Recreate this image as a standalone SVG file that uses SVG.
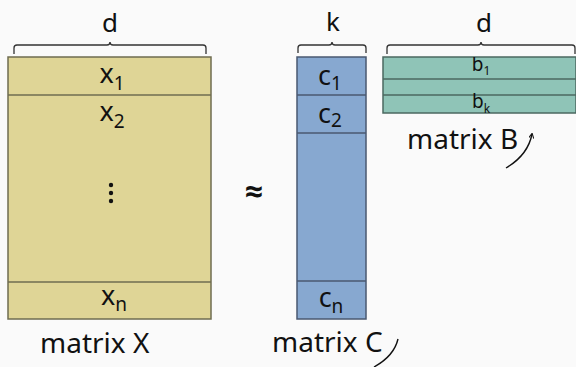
<svg xmlns="http://www.w3.org/2000/svg" width="576" height="367" viewBox="0 0 576 367">
<style>
text{font-family:"Noto Sans","Open Sans",sans-serif;fill:#111}
.lbl{font-size:28px}
.cell{font-size:27px;text-anchor:middle}
.sub{font-size:19px}
.brace{fill:none;stroke:#333;stroke-width:1.3}
.X{fill:#dfd596;stroke:#6f6c50;stroke-width:1.5}
.C{fill:#87a8d0;stroke:#4a5870;stroke-width:1.5}
.B{fill:#8fc4b7;stroke:#4b6860;stroke-width:1.5}
.bl{font-size:19px}
.bs{font-size:12px}
</style>
<defs>
<marker id="tip" viewBox="0 0 6 6" refX="5" refY="3" markerWidth="5" markerHeight="5" orient="auto" markerUnits="userSpaceOnUse">
<path d="M0,0 L6,3 L0,6" fill="none" stroke="#111" stroke-width="1.2"/>
</marker>
<clipPath id="clipB"><rect x="383" y="57" width="193" height="56"/></clipPath>
</defs>
<rect width="576" height="367" fill="#fafafa"/>
<g id="matrixX">
<text x="110" y="32" class="cell" style="font-size:26px">d</text>
<path class="brace" d="M14,54 V48 Q14,45 17,45 H107 Q110,45 110,42 Q110,45 113,45 H203 Q206,45 206,48 V54"/>
<rect class="X" x="8" y="57" width="203" height="262"/>
<line class="X" x1="8" y1="95" x2="211" y2="95"/>
<line class="X" x1="8" y1="282" x2="211" y2="282"/>
<text x="112" y="83" class="cell">x<tspan class="sub" dy="7">1</tspan></text>
<text x="112" y="121" class="cell">x<tspan class="sub" dy="7">2</tspan></text>
<circle cx="111" cy="185" r="2.2" fill="#111"/>
<circle cx="111" cy="193" r="2.2" fill="#111"/>
<circle cx="111" cy="201" r="2.2" fill="#111"/>
<text x="114" y="305" class="cell">x<tspan class="sub" dy="6">n</tspan></text>
<text x="40" y="353" class="lbl">matrix X</text>
</g>
<g id="approx">
<text x="254" y="203" class="cell" style="font-size:32px;font-weight:bold">≈</text>
</g>
<g id="matrixC">
<text x="333" y="31" class="cell" style="font-size:26px">k</text>
<path class="brace" d="M298,53 V48 Q298,45 301,45 H329 Q332,45 332,42 Q332,45 335,45 H363 Q366,45 366,48 V53"/>
<rect class="C" x="297" y="57" width="69" height="262"/>
<line class="C" x1="297" y1="95" x2="366" y2="95"/>
<line class="C" x1="297" y1="133" x2="366" y2="133"/>
<line class="C" x1="297" y1="281" x2="366" y2="281"/>
<text x="330" y="85" class="cell">c<tspan class="sub" dy="5">1</tspan></text>
<text x="330" y="123" class="cell">c<tspan class="sub" dy="4">2</tspan></text>
<text x="331" y="307" class="cell">c<tspan class="sub" dy="6">n</tspan></text>
<text x="272" y="352" class="lbl">matrix C</text>
</g>
<g id="matrixB">
<text x="484" y="32" class="cell" style="font-size:26px">d</text>
<path class="brace" d="M387,54 V48 Q387,45 390,45 H478 Q481,45 481,42 Q481,45 484,45 H572 Q575,45 575,48 V54"/>
<rect class="B" x="383" y="57" width="193" height="56"/>
<line class="B" x1="383" y1="79" x2="576" y2="79"/>
<line class="B" x1="383" y1="95" x2="576" y2="95"/>
<g clip-path="url(#clipB)">
<text x="481" y="71" class="cell bl">b<tspan class="bs" dy="4">1</tspan></text>
<text x="481" y="108" class="cell bl">b<tspan class="bs" dy="5">k</tspan></text>
</g>
<text x="407" y="149" class="lbl">matrix B</text>
</g>
<g id="connectors">
<path d="M506,168 Q528,155 532,134" fill="none" stroke="#111" stroke-width="1.4" marker-end="url(#tip)"/>
<path d="M374,367 Q394,356 398,339" fill="none" stroke="#111" stroke-width="1.4"/>
</g>
</svg>
